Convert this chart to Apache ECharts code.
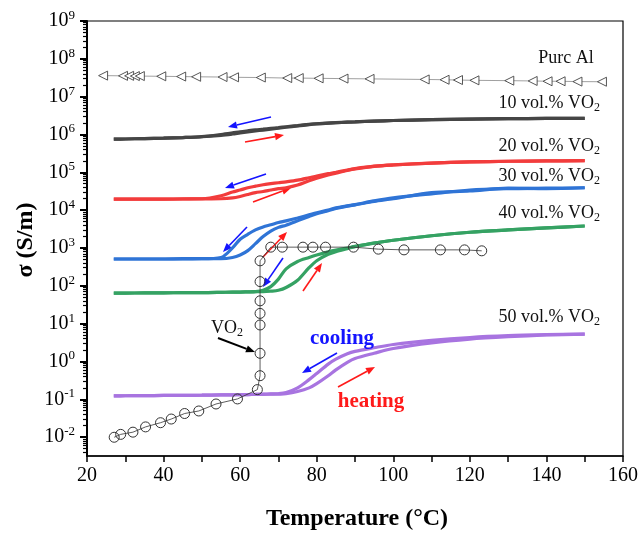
<!DOCTYPE html>
<html>
<head>
<meta charset="utf-8">
<script src="https://cdn.jsdelivr.net/npm/echarts@6/dist/echarts.min.js"></script>
<style>
  html,body{margin:0;padding:0;background:#fff;}
  #chartmain{width:641px;height:533px;}
</style>
</head>
<body>
<div id="chartmain"></div>
<script>
// temperature grid shared by the composite curves (°C)
var temps = [27,30,35,40,45,50,55,58,60,62,64,66,68,70,72,75,78,80,83,85,88,90,95,100,110,120,130,140,150];

// sigma (S/m), cooling and heating branches
var vo10Cool = [7.5e5,7.6e5,7.8e5,8.0e5,8.3e5,8.8e5,1.0e6,1.1e6,1.18e6,1.25e6,1.32e6,1.38e6,1.45e6,1.52e6,1.6e6,1.72e6,1.85e6,1.92e6,2.0e6,2.05e6,2.12e6,2.16e6,2.26e6,2.34e6,2.46e6,2.55e6,2.61e6,2.65e6,2.68e6];
var vo10Heat = [7.5e5,7.6e5,7.8e5,8.0e5,8.3e5,8.7e5,9.5e5,1.03e6,1.1e6,1.17e6,1.24e6,1.31e6,1.38e6,1.46e6,1.55e6,1.68e6,1.82e6,1.9e6,1.99e6,2.04e6,2.11e6,2.15e6,2.25e6,2.34e6,2.46e6,2.55e6,2.61e6,2.65e6,2.68e6];
var vo20Cool = [1.95e4,1.95e4,1.95e4,1.96e4,1.98e4,2.0e4,2.4e4,3.0e4,3.4e4,3.9e4,4.3e4,4.7e4,5.0e4,5.3e4,5.6e4,6.2e4,7.2e4,8.0e4,9.2e4,1.0e5,1.15e5,1.25e5,1.45e5,1.57e5,1.75e5,1.88e5,1.96e5,2.0e5,2.03e5];
var vo20Heat = [1.95e4,1.95e4,1.95e4,1.96e4,1.97e4,1.98e4,2.0e4,2.1e4,2.3e4,2.6e4,2.9e4,3.1e4,3.4e4,3.7e4,3.9e4,4.6e4,6.0e4,7.0e4,8.5e4,9.5e4,1.12e5,1.23e5,1.44e5,1.56e5,1.75e5,1.88e5,1.96e5,2.0e5,2.03e5];
var vo30Cool = [510,510,510,510,520,520,560,1000,1700,2300,3000,3600,4100,4700,5200,6200,7500,8500,1.0e4,1.15e4,1.3e4,1.4e4,1.75e4,2.1e4,2.7e4,3.4e4,3.7e4,3.8e4,3.9e4];
var vo30Heat = [510,510,510,510,510,520,520,560,650,850,1300,2000,2800,3500,4000,5200,6800,8000,9600,1.1e4,1.28e4,1.38e4,1.7e4,2.0e4,2.9e4,3.2e4,3.8e4,3.7e4,3.9e4];
var vo40Cool = [64,64,65,65,66,66,67,68,68,69,70,76,95,150,280,440,560,650,790,880,1000,1100,1350,1600,2100,2600,3000,3400,3800];
var vo40Heat = [64,64,65,65,66,66,67,68,68,69,70,70,72,76,90,140,300,460,680,800,960,1080,1340,1600,2100,2600,3000,3400,3800];
var vo50Cool = [0.123,0.124,0.125,0.126,0.127,0.128,0.13,0.131,0.132,0.133,0.134,0.136,0.138,0.14,0.15,0.2,0.33,0.48,0.85,1.15,1.6,1.85,2.3,2.8,3.6,4.3,4.8,5.1,5.3];
var vo50Heat = [0.123,0.124,0.125,0.126,0.127,0.128,0.13,0.131,0.132,0.133,0.134,0.135,0.136,0.137,0.14,0.16,0.2,0.26,0.42,0.6,0.95,1.2,1.65,2.2,3.1,3.9,4.5,5.0,5.3];

// pure Al (triangles)
var alT = [24.2,29.4,31.0,32.5,33.8,39.4,44.6,48.5,55.4,58.4,65.4,72.3,75.3,80.5,87.0,93.8,108.2,113.4,116.9,121.2,130.3,136.4,140.3,143.7,148.1,154.5];
var alS = [3.6e7,3.55e7,3.55e7,3.5e7,3.5e7,3.45e7,3.4e7,3.35e7,3.3e7,3.25e7,3.2e7,3.1e7,3.1e7,3.05e7,3.0e7,2.95e7,2.85e7,2.8e7,2.75e7,2.7e7,2.65e7,2.6e7,2.55e7,2.55e7,2.5e7,2.48e7];

// pure VO2 (circles)
var vo2T = [27.1,28.8,32.0,35.3,39.2,42.0,45.5,49.2,53.7,59.3,64.5,65.2,65.2,65.2,65.2,65.2,65.2,65.2,68.0,71.0,76.4,79.0,82.3,89.6,96.1,102.8,112.3,118.6,123.1];
var vo2S = [0.0099,0.0118,0.0135,0.0186,0.024,0.030,0.042,0.049,0.075,0.102,0.18,0.42,1.64,9.2,18.6,40,129,457,1050,1050,1050,1050,1050,1050,930,890,890,890,840];

var yMajor = [-2,-1,0,1,2,3,4,5,6,7,8,9];

var serif = '"Liberation Serif","Times New Roman",serif';

function pairs(xs, ys){
    var out = [];
    for (var i = 0; i < xs.length; i++) out.push([xs[i], Math.log10(ys[i])]);
    return out;
}

function minorTicks(){
    var out = [];
    for (var d = -3; d < 9; d++) {
        for (var k = 2; k <= 9; k++) {
            var v = d + Math.log10(k);
            if (v > -2.5 && v < 9) out.push(v);
        }
    }
    return out;
}

function curve(name, data, color){
    return {
        name: name, type: 'line', data: data,
        showSymbol: false, smooth: 0.3,
        lineStyle: {color: color, width: 3.2},
        itemStyle: {color: color},
        z: 2
    };
}

function arrow(x1, y1, x2, y2, color, w){
    var a = Math.atan2(y2 - y1, x2 - x1), L = 9, W = 3.6;
    var bx = x2 - L * Math.cos(a), by = y2 - L * Math.sin(a);
    return [
        {type: 'line', shape: {x1: x1, y1: y1, x2: bx, y2: by}, style: {stroke: color, lineWidth: w}},
        {type: 'polygon', shape: {points: [[x2, y2], [bx + W * Math.sin(a), by - W * Math.cos(a)], [bx - W * Math.sin(a), by + W * Math.cos(a)]]}, style: {fill: color}}
    ];
}

function label(x, y, txt, align){
    return {
        type: 'text', x: x, y: y, z: 10,
        style: {
            text: txt, fill: '#111', font: '18px ' + serif,
            align: align || 'right', verticalAlign: 'middle',
            rich: {
                n: {fontSize: 18, fontFamily: serif, lineHeight: 22, verticalAlign: 'middle'},
                s: {fontSize: 12, fontFamily: serif, lineHeight: 12, verticalAlign: 'bottom'}
            }
        }
    };
}

var BLUE = '#1414ff', RED = '#ff1a1a';
var arrows = []
    .concat(arrow(271,117,228,127,BLUE,1.6))
    .concat(arrow(245,142,284,135,RED,1.6))
    .concat(arrow(266,174,225,188,BLUE,1.6))
    .concat(arrow(253,202,291,188,RED,1.6))
    .concat(arrow(247,227,223,252,BLUE,1.6))
    .concat(arrow(263,257,287,232,RED,1.6))
    .concat(arrow(283,258,263,287,BLUE,1.6))
    .concat(arrow(303,291,322,263,RED,1.6))
    .concat(arrow(218,338,255,352,'#000',2))
    .concat(arrow(337,353,302,373,BLUE,1.6))
    .concat(arrow(338,387,375,367,RED,1.6));

var texts = [
    label(566, 58, '{n|Purc Al}', 'center'),
    label(600, 103, '{n|10 vol.% VO}{s|2}'),
    label(600, 146, '{n|20 vol.% VO}{s|2}'),
    label(600, 176, '{n|30 vol.% VO}{s|2}'),
    label(600, 213, '{n|40 vol.% VO}{s|2}'),
    label(600, 317, '{n|50 vol.% VO}{s|2}'),
    label(227, 328, '{n|VO}{s|2}', 'center'),
    {type: 'text', x: 342, y: 339, z: 10, style: {text: 'cooling', fill: BLUE, font: 'bold 21px ' + serif, align: 'center', verticalAlign: 'middle'}},
    {type: 'text', x: 371, y: 402, z: 10, style: {text: 'heating', fill: RED, font: 'bold 21px ' + serif, align: 'center', verticalAlign: 'middle'}},
    {type: 'text', x: 357, y: 519, style: {text: 'Temperature (°C)', fill: '#000', font: 'bold 24px ' + serif, align: 'center', verticalAlign: 'middle'}},
    {type: 'text', x: 26, y: 240, rotation: Math.PI / 2, style: {text: 'σ (S/m)', fill: '#000', font: 'bold 24px ' + serif, align: 'center', verticalAlign: 'middle'}}
];

var option = {
    animation: false,
    backgroundColor: '#fff',
    grid: {left: 87, right: 14, top: 21, bottom: 77, show: true, borderColor: '#000', borderWidth: 1.2},
    xAxis: {
        type: 'value', min: 20, max: 160, interval: 10,
        axisLine: {onZero: false, lineStyle: {color: '#000', width: 1.5}},
        axisTick: {show: true, length: 6, lineStyle: {color: '#000', width: 1.5}},
        axisLabel: {
            color: '#000', fontSize: 20, fontFamily: serif, margin: 10,
            formatter: function (v) { return v % 20 === 0 ? String(v) : ''; }
        },
        splitLine: {show: false}
    },
    yAxis: [{
        type: 'value', min: -2.5, max: 9,
        axisLine: {show: true, onZero: false, lineStyle: {color: '#000', width: 2}},
        axisTick: {show: true, length: 7, customValues: yMajor, lineStyle: {color: '#000', width: 2}},
        axisLabel: {
            customValues: yMajor, margin: 12, color: '#000',
            formatter: function (v) { return '{b|10}{s|' + Math.round(v) + '}'; },
            rich: {
                b: {fontSize: 20, fontFamily: serif, color: '#000', lineHeight: 24, verticalAlign: 'middle'},
                s: {fontSize: 13, fontFamily: serif, color: '#000', lineHeight: 13, verticalAlign: 'top'}
            }
        },
        splitLine: {show: false}
    }, {
        type: 'value', min: -2.5, max: 9, position: 'left',
        axisLine: {show: false, onZero: false},
        axisTick: {show: true, length: 4, customValues: minorTicks(), lineStyle: {color: '#000', width: 1.2}},
        axisLabel: {show: false},
        splitLine: {show: false}
    }],
    series: [
        {
            name: 'Purc Al', type: 'line', data: pairs(alT, alS),
            symbol: 'triangle', symbolSize: 9, symbolRotate: 90,
            lineStyle: {color: '#888', width: 0.8},
            itemStyle: {color: '#fff', borderColor: '#444', borderWidth: 0.9},
            z: 3
        },
        curve('10c', pairs(temps, vo10Cool), '#454545'),
        curve('10h', pairs(temps, vo10Heat), '#454545'),
        curve('20c', pairs(temps, vo20Cool), '#f23c3c'),
        curve('20h', pairs(temps, vo20Heat), '#f23c3c'),
        curve('30c', pairs(temps, vo30Cool), '#2f74d6'),
        curve('30h', pairs(temps, vo30Heat), '#2f74d6'),
        curve('40c', pairs(temps, vo40Cool), '#35a263'),
        curve('40h', pairs(temps, vo40Heat), '#35a263'),
        curve('50c', pairs(temps, vo50Cool), '#a874e0'),
        curve('50h', pairs(temps, vo50Heat), '#a874e0'),
        {
            name: 'VO2', type: 'line', data: pairs(vo2T, vo2S),
            symbol: 'circle', symbolSize: 10,
            lineStyle: {color: '#333', width: 0.8},
            itemStyle: {color: 'rgba(255,255,255,0)', borderColor: '#333', borderWidth: 1},
            z: 4
        }
    ],
    graphic: texts.concat(arrows)
};

var myChart = echarts.init(document.getElementById('chartmain'));
myChart.setOption(option);
</script>
</body>
</html>
